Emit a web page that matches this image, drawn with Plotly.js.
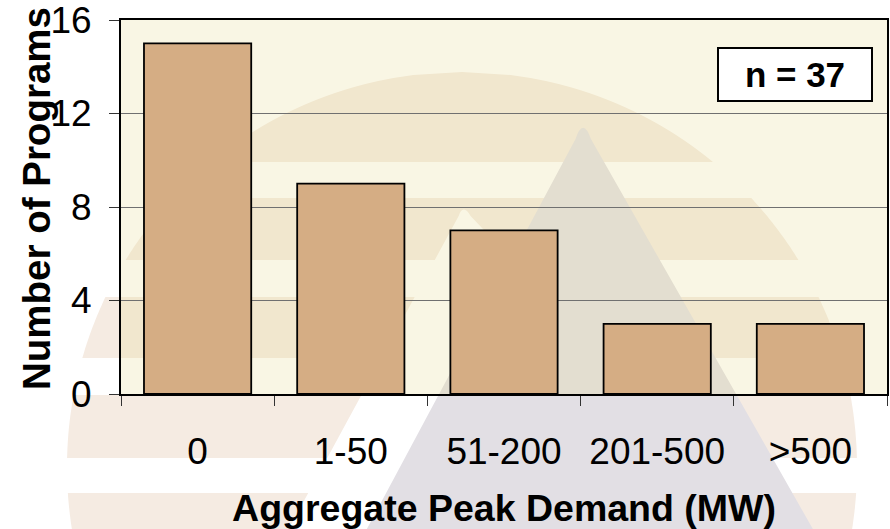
<!DOCTYPE html>
<html>
<head>
<meta charset="utf-8">
<script src="https://cdn.plot.ly/plotly-3.0.1.min.js"></script>
<style>
  html, body { margin: 0; padding: 0; background: #ffffff; }
  #chart { width: 890px; height: 529px; }
</style>
</head>
<body>
<div id="chart"></div>
<script>
// Demand-response programs grouped by aggregate peak demand
const categories = ['0', '1-50', '51-200', '201-500', '>500'];
const programCounts = [15, 9, 7, 3, 3];
const yTickValues = [0, 4, 8, 12, 16];
const yTickLabels = ['0', '4', '8', '12', '16'];

const totalPrograms = programCounts.reduce((a, b) => a + b, 0);

// Page geometry (pixels)
const W = 890, H = 529;
const M = { l: 121, r: 3, t: 20, b: 135 };
const PW = W - M.l - M.r;
const PH = H - M.t - M.b;

// pixel -> paper coordinates for the background emblem
const px = x => ((x - M.l) / PW).toFixed(4);
const py = y => ((M.t + PH - y) / PH).toFixed(4);
const polyPath = pts => 'M' + pts.map(p => px(p[0]) + ',' + py(p[1])).join('L') + 'Z';

// Emblem: a sun disc cut into horizontal bands, with two peaks in front
const sun = { cx: 462, cy: 467, r: 395 };
const sunBands = [[72, 162], [198, 260], [297, 358], [395, 458], [493, 545]];

function bandPath(y1, y2) {
  const n = 30, right = [], left = [];
  for (let i = 0; i <= n; i++) {
    const y = y1 + (y2 - y1) * i / n;
    const dy = y - sun.cy;
    const h = Math.sqrt(Math.max(0, sun.r * sun.r - dy * dy));
    right.push([sun.cx + h, y]);
    left.push([sun.cx - h, y]);
  }
  return polyPath(right.concat(left.reverse()));
}

function peakPath(apex, leftSlope, rightSlope, bottom, round) {
  const yb = apex[1] + round;
  const lx = apex[0] - leftSlope * round, rx = apex[0] + rightSlope * round;
  const L = [apex[0] - leftSlope * (bottom - apex[1]), bottom];
  const R = [apex[0] + rightSlope * (bottom - apex[1]), bottom];
  return 'M' + px(L[0]) + ',' + py(L[1]) +
         'L' + px(lx) + ',' + py(yb) +
         'Q' + px(apex[0]) + ',' + py(apex[1] - round * 0.6) + ' ' + px(rx) + ',' + py(yb) +
         'L' + px(R[0]) + ',' + py(R[1]) + 'Z';
}

const shapes = [];
sunBands.forEach(b => shapes.push({
  type: 'path', xref: 'paper', yref: 'paper', layer: 'below',
  path: bandPath(b[0], b[1]), fillcolor: '#F5EBE2', line: { width: 0 }
}));
// small white peak
shapes.push({
  type: 'path', xref: 'paper', yref: 'paper', layer: 'below',
  path: peakPath([463, 208], 0.543, 0.95, 545, 8), fillcolor: '#FFFFFF', line: { width: 0 }
});
// large grey peak
shapes.push({
  type: 'path', xref: 'paper', yref: 'paper', layer: 'below',
  path: peakPath([583, 125], 0.535, 0.569, 545, 14), fillcolor: '#E2DFE4', line: { width: 0 }
});
// translucent cream plotting panel over the emblem
shapes.push({
  type: 'rect', xref: 'paper', yref: 'paper', layer: 'below',
  x0: 0, x1: 1, y0: 0, y1: 1,
  fillcolor: 'rgba(232,220,151,0.26)', line: { width: 0 }
});

const FONT = 'Arial, "Liberation Sans", sans-serif';

const trace = {
  type: 'bar',
  x: categories,
  y: programCounts,
  marker: { color: '#D5AD84', line: { color: '#000000', width: 1.8 } },
  hoverinfo: 'x+y'
};

const layout = {
  width: W, height: H,
  margin: M,
  paper_bgcolor: '#FFFFFF',
  plot_bgcolor: 'rgba(0,0,0,0)',
  showlegend: false,
  bargap: 0.3,
  font: { family: FONT, color: '#000000' },
  shapes: shapes,
  xaxis: {
    type: 'category',
    tickson: 'boundaries',
    ticks: 'outside', ticklen: 10, tickwidth: 1, tickcolor: '#333333',
    ticklabelstandoff: 24,
    ticklabeloverflow: 'allow',
    tickfont: { size: 37, family: FONT, color: '#000000' },
    showline: true, mirror: true, linecolor: '#000000', linewidth: 2,
    showgrid: false,
    title: { text: 'Aggregate Peak Demand (MW)', font: { size: 37.5, family: FONT, color: '#000000', weight: 'bold' }, standoff: 24 },
    automargin: false
  },
  yaxis: {
    range: [0, 16],
    tickvals: yTickValues, ticktext: yTickLabels,
    ticks: 'outside', ticklen: 10, tickwidth: 1, tickcolor: '#333333',
    ticklabelstandoff: 10,
    ticklabeloverflow: 'allow',
    tickfont: { size: 37, family: FONT, color: '#000000' },
    showline: true, mirror: true, linecolor: '#000000', linewidth: 2,
    showgrid: true, gridcolor: '#707070', gridwidth: 1,
    zeroline: false,
    automargin: false
  },
  annotations: [{
    // y-axis title, set close to the tick labels
    xref: 'paper', yref: 'paper',
    x: (36 - M.l) / PW, y: (M.t + PH - 199) / PH,
    xanchor: 'center', yanchor: 'middle',
    textangle: -90,
    text: '<b>Number of Programs</b>',
    showarrow: false,
    font: { size: 38.5, family: FONT, color: '#000000' }
  }, {
    xref: 'paper', yref: 'paper',
    x: (794.5 - M.l) / PW, y: (M.t + PH - 74.5) / PH,
    xanchor: 'center', yanchor: 'middle',
    text: '<b>n = ' + totalPrograms + '</b>',
    showarrow: false,
    font: { size: 35, family: FONT, color: '#000000' },
    bgcolor: '#FFFFFF', bordercolor: '#000000', borderwidth: 2,
    width: 150, height: 49, borderpad: 1
  }]
};

Plotly.newPlot('chart', [trace], layout, { displayModeBar: false, staticPlot: true });
</script>
</body>
</html>
